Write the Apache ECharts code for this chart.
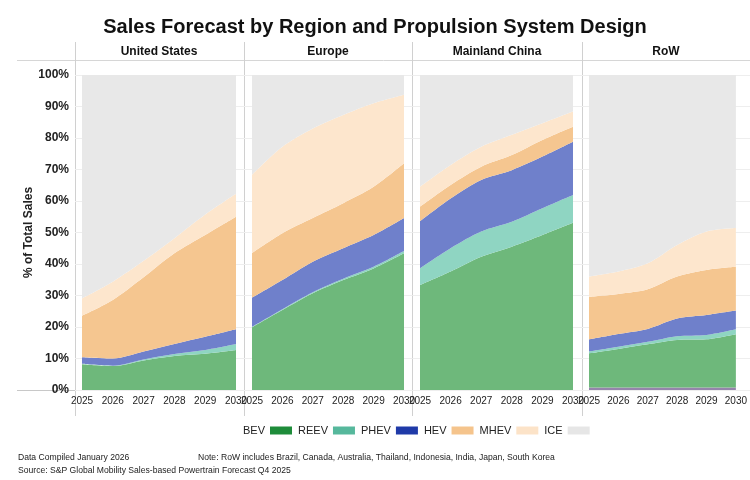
<!DOCTYPE html>
<html>
<head>
<meta charset="utf-8">
<script src="https://cdn.jsdelivr.net/npm/echarts@6/dist/echarts.min.js"></script>
<style>
  html, body { margin: 0; padding: 0; background: #fff; }
  #main { width: 750px; height: 480px; }
</style>
</head>
<body>
<div id="main"></div>
<script>
// years and regions
var years = ['2025', '2026', '2027', '2028', '2029', '2030'];
var regions = ['United States', 'Europe', 'Mainland China', 'RoW'];

// % of total sales, per region
var usBev  = [8.2, 7.6, 9.4, 10.8, 11.5, 12.7];
var usReev = [0.1, 0.1, 0.3, 0.6, 1.2, 1.9];
var usPhev = [2.1, 2.3, 2.5, 3.2, 4.2, 4.7];
var usHev  = [13.2, 18.6, 23.6, 28.8, 32.3, 35.7];
var usMhev = [5.5, 5.8, 5.2, 4.8, 6.5, 7.3];
var usIce  = [70.9, 65.6, 59.0, 51.8, 44.3, 37.7];

var euBev  = [19.9, 25.4, 30.7, 34.9, 38.6, 43.4];
var euReev = [0.1, 0.2, 0.3, 0.4, 0.5, 0.7];
var euPhev = [9.3, 9.3, 9.7, 9.7, 10.1, 10.5];
var euHev  = [14.2, 14.9, 13.9, 14.3, 15.3, 17.4];
var euMhev = [24.8, 27.4, 28.4, 28.0, 26.5, 21.7];
var euIce  = [31.7, 22.8, 17.0, 12.7, 9.0, 6.3];

var cnBev  = [33.3, 37.6, 42.3, 45.5, 49.2, 53.1];
var cnReev = [5.3, 7.4, 8.0, 7.9, 8.5, 8.8];
var cnPhev = [15.0, 15.8, 16.4, 16.4, 16.4, 16.9];
var cnHev  = [4.6, 4.3, 4.2, 4.8, 5.3, 4.8];
var cnMhev = [6.3, 6.3, 6.3, 6.4, 5.3, 4.8];
var cnIce  = [35.5, 28.6, 22.8, 19.0, 15.3, 11.6];

var rowOther = [0.8, 0.8, 0.8, 0.8, 0.8, 0.8];
var rowBev  = [10.8, 12.2, 13.7, 15.1, 15.3, 16.9];
var rowReev = [0.6, 0.7, 0.8, 1.2, 1.4, 1.6];
var rowPhev = [3.9, 4.1, 4.1, 5.6, 6.3, 5.9];
var rowHev  = [13.5, 12.7, 12.6, 13.3, 14.3, 13.9];
var rowMhev = [6.4, 7.1, 8.2, 10.0, 12.2, 12.3];
var rowIce  = [64.0, 62.4, 59.8, 54.0, 49.7, 48.6];

var yTicks = [0, 10, 20, 30, 40, 50, 60, 70, 80, 90, 100];

var regionData = [
    { key: 'us', Other: null, BEV: usBev, REEV: usReev, PHEV: usPhev, HEV: usHev, MHEV: usMhev, ICE: usIce },
    { key: 'eu', Other: null, BEV: euBev, REEV: euReev, PHEV: euPhev, HEV: euHev, MHEV: euMhev, ICE: euIce },
    { key: 'cn', Other: null, BEV: cnBev, REEV: cnReev, PHEV: cnPhev, HEV: cnHev, MHEV: cnMhev, ICE: cnIce },
    { key: 'row', Other: rowOther, BEV: rowBev, REEV: rowReev, PHEV: rowPhev, HEV: rowHev, MHEV: rowMhev, ICE: rowIce }
];

var seriesNames = ['Other', 'BEV', 'REEV', 'PHEV', 'HEV', 'MHEV', 'ICE'];
// legend swatch colour / area fill colour
var legendColors = { BEV: '#1e8c3a', REEV: '#56b89c', PHEV: '#1f3aa8', HEV: '#f5c48c', MHEV: '#fce3c8', ICE: '#e6e6e6', Other: '#8a78a6' };
var areaColors   = { BEV: '#6eb87b', REEV: '#8fd5c2', PHEV: '#6f80cb', HEV: '#f5c690', MHEV: '#fde6cd', ICE: '#e8e8e8', Other: '#9584ab' };

var FONT = '"Liberation Sans", Arial, sans-serif';

// plot areas (px)
var gridBoxes = [
    { left: 82, width: 154 },
    { left: 252, width: 152 },
    { left: 420, width: 153 },
    { left: 589, width: 153 }
];
var TOP = 75, HEIGHT = 315;

var grids = [], xAxes = [], yAxes = [], series = [];

// background grid, only for the faint horizontal gridlines across all panels
grids.push({ left: 75, right: 0, top: TOP, height: HEIGHT });
xAxes.push({ gridIndex: 0, type: 'category', show: false, data: years });
yAxes.push({
    gridIndex: 0, type: 'value', min: 0, max: 100, interval: 10,
    axisLabel: { show: false }, axisLine: { show: false }, axisTick: { show: false },
    splitLine: { lineStyle: { color: '#eeeeee', width: 1 } }
});

gridBoxes.forEach(function (b, i) {
    var gi = i + 1;
    grids.push({ left: b.left, width: b.width, top: TOP, height: HEIGHT });
    xAxes.push({
        gridIndex: gi, type: 'category', data: years, boundaryGap: false,
        axisLine: { show: false }, axisTick: { show: false },
        axisLabel: { interval: 0, margin: 6, fontFamily: FONT, fontSize: 10, color: '#222' }
    });
    yAxes.push({
        gridIndex: gi, type: 'value', min: 0, max: 100, interval: 10,
        axisLine: { show: false }, axisTick: { show: false }, splitLine: { show: false },
        axisLabel: {
            show: i === 0, margin: 13, fontFamily: FONT, fontSize: 12, fontWeight: 'bold', color: '#222',
            formatter: function (v) { return yTicks.indexOf(v) >= 0 ? v + '%' : ''; }
        },
        name: i === 0 ? '% of Total Sales' : '',
        nameLocation: 'middle', nameGap: 45,
        nameTextStyle: { fontFamily: FONT, fontSize: 12, fontWeight: 'bold', color: '#222' }
    });

    var rd = regionData[i];
    seriesNames.forEach(function (n) {
        if (!rd[n]) return;
        series.push({
            name: n, type: 'line', xAxisIndex: gi, yAxisIndex: gi,
            stack: rd.key, smooth: 0.3, symbol: 'none',
            data: rd[n],
            itemStyle: { color: legendColors[n] },
            lineStyle: { width: 0 },
            areaStyle: { color: areaColors[n], opacity: 1 },
            emphasis: { disabled: true }
        });
    });
});

var NOTE_FONT = '8.6px ' + FONT;
var graphic = [
    // main title
    { type: 'text', left: 'center', top: 17, style: { text: 'Sales Forecast by Region and Propulsion System Design', font: 'bold 20px ' + FONT, fill: '#111' } },
    // header rule and bottom axis rule
    { type: 'line', shape: { x1: 17, y1: 60.5, x2: 750, y2: 60.5 }, style: { stroke: '#d6d6d6', lineWidth: 1 } },
    { type: 'line', shape: { x1: 17, y1: 390.5, x2: 750, y2: 390.5 }, style: { stroke: '#c8c8c8', lineWidth: 1 } },
    // footnotes
    { type: 'text', left: 18, top: 453, style: { text: 'Data Compiled January 2026', font: NOTE_FONT, fill: '#222' } },
    { type: 'text', left: 198, top: 453, style: { text: 'Note: RoW includes Brazil, Canada, Australia, Thailand, Indonesia, India, Japan, South Korea', font: NOTE_FONT, fill: '#222' } },
    { type: 'text', left: 18, top: 466, style: { text: 'Source: S&P Global Mobility Sales-based Powertrain Forecast Q4 2025', font: NOTE_FONT, fill: '#222' } }
];
// panel separators and headers
var sepX = [75.5, 244.5, 412.5, 582.5];
sepX.forEach(function (x) {
    graphic.push({ type: 'line', shape: { x1: x, y1: 42, x2: x, y2: 416 }, style: { stroke: '#d0d0d0', lineWidth: 1 } });
});
var headerX = [159, 328, 497, 666];
regions.forEach(function (r, i) {
    graphic.push({ type: 'text', x: headerX[i], y: 52, style: { text: r, font: 'bold 12px ' + FONT, fill: '#111', align: 'center', verticalAlign: 'middle' } });
});

var option = {
    backgroundColor: '#fff',
    animation: false,
    legend: {
        top: 420, left: 238, align: 'right', icon: 'rect',
        itemWidth: 22, itemHeight: 8, itemGap: 6,
        textStyle: { fontFamily: FONT, fontSize: 11, color: '#222' },
        data: ['BEV', 'REEV', 'PHEV', 'HEV', 'MHEV', 'ICE'].map(function (n) {
            return { name: n, itemStyle: { color: legendColors[n] } };
        }),
        selectedMode: false
    },
    grid: grids,
    xAxis: xAxes,
    yAxis: yAxes,
    series: series,
    graphic: graphic
};

var myChart = echarts.init(document.getElementById('main'));
myChart.setOption(option);
</script>
</body>
</html>
